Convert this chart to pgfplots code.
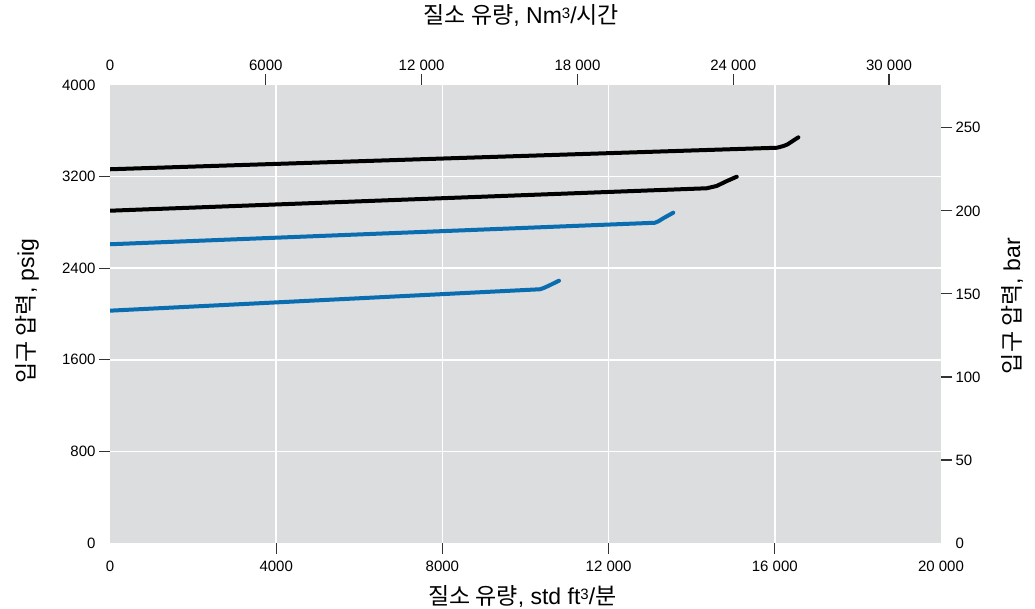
\documentclass[border=0pt]{standalone}
\usepackage{pgfplots}
\pgfplotsset{compat=1.18}
\usepackage{fontspec}
\setmainfont{Liberation Sans}
\newfontfamily\kr{Noto Sans CJK KR}
\definecolor{bg}{HTML}{DCDDDF}
\definecolor{cblue}{HTML}{0A6DB0}
\definecolor{tickc}{HTML}{333333}
\newcommand{\sthree}{{\fontsize{15}{15}\selectfont\raisebox{0.55ex}{3}}}
\begin{document}
\begin{tikzpicture}[x=1pt,y=1pt]
\path[use as bounding box] (0,0) rectangle (1035,609);
\begin{axis}[
  at={(110pt,66pt)}, anchor=south west,
  scale only axis, width=831pt, height=458pt,
  xmin=0, xmax=20000, ymin=0, ymax=4000,
  scaled ticks=false,
  axis line style={draw=none},
  axis background/.style={fill=bg},
  tick align=outside, major tick length=11pt,
  tick style={tickc, line width=1.2pt},
  xtick pos=left, ytick pos=left,
  xtick={4000,8000,12000,16000}, xticklabels={4000,8000,12 000,16 000},
  extra x ticks={0,20000}, extra x tick labels={0,20 000},
  extra x tick style={grid=none, tick style={draw=none}},
  ytick={800,1600,2400,3200}, yticklabels={800,1600,2400,3200},
  extra y ticks={0,4000}, extra y tick labels={0,4000},
  extra y tick style={grid=none, tick style={draw=none}},
  grid=major, major grid style={white, line width=1.5pt},
  ticklabel style={font=\fontsize{15}{15}\selectfont},
  xticklabel style={yshift=-3pt},
  xlabel={{\kr 질소 유량}, std ft\sthree/{\kr 분}},
  xlabel style={at={(axis description cs:0.496,-0.1157)}, anchor=center, font=\fontsize{23}{23}\selectfont},
  ylabel={{\kr 입구 압력}, psig},
  ylabel style={at={(axis description cs:-0.1,0.506)}, anchor=center, font=\fontsize{23}{23}\selectfont},
]
\addplot[black, line width=4pt, line join=round, line cap=round] coordinates {
 (0,3264) (16050,3452) (16200,3466) (16300,3480) (16566,3543)};
\addplot[black, line width=4pt, line join=round, line cap=round] coordinates {
 (0,2902) (14360,3098) (14600,3118) (14840,3160) (15083,3199)};
\addplot[cblue, line width=4pt, line join=round, line cap=round] coordinates {
 (0,2609) (13117,2797) (13200,2810) (13316,2836) (13557,2885)};
\addplot[cblue, line width=4pt, line join=round, line cap=round] coordinates {
 (0,2029) (10349,2216) (10430,2226) (10549,2245) (10806,2291)};
\end{axis}
\begin{axis}[
  at={(110pt,66pt)}, anchor=south west,
  scale only axis, width=831pt, height=458pt,
  xmin=0, xmax=32000, ymin=0, ymax=275.79,
  scaled ticks=false,
  axis x line*=top, axis y line*=right,
  axis line style={draw=none},
  tick align=outside, major tick length=11pt,
  tick style={tickc, line width=1.2pt},
  xtick={6000,12000,18000,24000,30000}, xticklabels={6000,12 000,18 000,24 000,30 000},
  extra x ticks={0}, extra x tick labels={0},
  extra x tick style={tick style={draw=none}},
  ytick={50,100,150,200,250}, yticklabels={50,100,150,200,250},
  extra y ticks={0}, extra y tick labels={0},
  extra y tick style={tick style={draw=none}},
  ticklabel style={font=\fontsize{15}{15}\selectfont},
  xlabel={{\kr 질소 유량}, Nm\sthree/{\kr 시간}},
  xlabel style={at={(axis description cs:0.495,1.1528)}, anchor=center, font=\fontsize{23}{23}\selectfont},
  ylabel={{\kr 입구 압력}, bar},
  ylabel style={at={(axis description cs:1.0854,0.517)}, anchor=center, font=\fontsize{23}{23}\selectfont},
]
\end{axis}
\end{tikzpicture}
\end{document}
